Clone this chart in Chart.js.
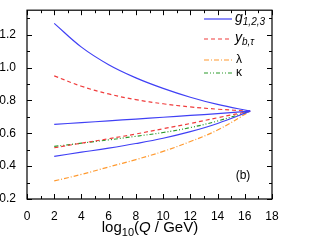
<!DOCTYPE html>
<html>
<head>
<meta charset="utf-8">
<script src="https://cdn.jsdelivr.net/npm/chart.js@4"></script>
<style>
  html, body { margin: 0; padding: 0; background: #fff; }
  #wrap { width: 314px; height: 241px; }
</style>
</head>
<body>
<div id="wrap"><canvas id="c" width="314" height="241"></canvas></div>
<script>
// scale (log10 of Q in GeV)
const logQ = [2, 4, 6, 8, 10, 12, 14, 16.4];

// gauge couplings
const g3 = [1.27, 1.125, 1.018, 0.938, 0.874, 0.82, 0.776, 0.735];
const g2 = [0.655, 0.665, 0.676, 0.687, 0.698, 0.709, 0.72, 0.735];
const g1 = [0.46, 0.485, 0.51, 0.538, 0.57, 0.61, 0.66, 0.735];

// yukawas
const yb = [0.95, 0.887, 0.84, 0.805, 0.78, 0.761, 0.747, 0.735];
const ytau = [0.512, 0.54, 0.567, 0.596, 0.628, 0.66, 0.695, 0.735];

// other couplings
const lambda = [0.31, 0.35, 0.395, 0.44, 0.49, 0.55, 0.62, 0.735];
const kappa = [0.52, 0.54, 0.56, 0.582, 0.605, 0.635, 0.675, 0.735];

const xTicks = [0, 2, 4, 6, 8, 10, 12, 14, 16, 18];
const yTicks = [0.2, 0.4, 0.6, 0.8, 1.0, 1.2];

const BLUE = "#4040f5";
const RED = "#f03c3c";
const ORANGE = "#ff9a30";
const GREEN = "#2a9a2a";

function pts(ys) {
    return logQ.map((x, i) => ({ x: x, y: ys[i] }));
}

function line(label, ys, color, dash) {
    return {
        label: label,
        data: pts(ys),
        borderColor: color,
        borderWidth: 1.2,
        borderDash: dash,
        pointRadius: 0,
        fill: false,
        tension: 0.4
    };
}

// frame, inward ticks, legend and axis title
const decor = {
    id: "decor",
    afterDraw(chart) {
        const c = chart.ctx;
        const a = chart.chartArea;
        const xs = chart.scales.x, ys = chart.scales.y;
        c.save();
        c.strokeStyle = "#000";
        c.lineWidth = 1.2;
        c.strokeRect(a.left, a.top, a.right - a.left, a.bottom - a.top);

        c.lineWidth = 1;
        c.beginPath();
        for (let v = 0; v <= 18; v += 1) {
            const px = Math.round(xs.getPixelForValue(v)) + 0.5;
            const len = v % 2 === 0 ? 5 : 3;
            c.moveTo(px, a.bottom); c.lineTo(px, a.bottom - len);
            c.moveTo(px, a.top); c.lineTo(px, a.top + len);
        }
        for (let k = 2; k <= 13; k++) {
            const v = k / 10;
            const py = Math.round(ys.getPixelForValue(v)) + 0.5;
            const len = k % 2 === 0 ? 5 : 3;
            c.moveTo(a.left, py); c.lineTo(a.left + len, py);
            c.moveTo(a.right, py); c.lineTo(a.right - len, py);
        }
        c.stroke();

        // legend
        const items = [
            { color: BLUE, dash: [], main: "g", sub: "1,2,3", y: 19 },
            { color: RED, dash: [4, 3], main: "y", sub: "b,\u03c4", y: 39 },
            { color: ORANGE, dash: [5, 2, 1, 2], main: "\u03bb", sub: "", y: 60 },
            { color: GREEN, dash: [4, 2, 1, 2, 1, 2], main: "\u03ba", sub: "", y: 73 }
        ];
        c.textBaseline = "middle";
        items.forEach(it => {
            c.strokeStyle = it.color;
            c.lineWidth = 1.2;
            c.setLineDash(it.dash);
            c.beginPath();
            c.moveTo(204, it.y); c.lineTo(232, it.y);
            c.stroke();
            c.setLineDash([]);
            c.fillStyle = "#000";
            if (it.sub) {
                c.font = "italic 14px 'Liberation Sans', Arial, sans-serif";
                c.fillText(it.main, 235, it.y - 1);
                const w = c.measureText(it.main).width;
                c.font = "italic 10px 'Liberation Sans', Arial, sans-serif";
                c.fillText(it.sub, 235 + w, it.y + 3);
            } else {
                c.font = "12px 'Liberation Sans', Arial, sans-serif";
                c.fillText(it.main, 236, it.y);
            }
        });

        // panel label
        c.fillStyle = "#000";
        c.font = "12px 'Liberation Sans', Arial, sans-serif";
        c.textAlign = "center";
        c.fillText("(b)", 243, 176);

        // x axis title: log10(Q / GeV)
        c.textAlign = "left";
        c.textBaseline = "alphabetic";
        const big = "15px 'Liberation Sans', Arial, sans-serif";
        const small = "11px 'Liberation Sans', Arial, sans-serif";
        const parts = [
            { t: "log", f: big, dy: 0 },
            { t: "10", f: small, dy: 4 },
            { t: "(", f: big, dy: 0 },
            { t: "Q", f: "italic " + big, dy: 0 },
            { t: " / GeV)", f: big, dy: 0 }
        ];
        let total = 0;
        parts.forEach(p => { c.font = p.f; total += c.measureText(p.t).width; });
        let x = 150 - total / 2;
        parts.forEach(p => {
            c.font = p.f;
            c.fillText(p.t, x, 232 + p.dy);
            x += c.measureText(p.t).width;
        });
        c.restore();
    }
};

new Chart(document.getElementById("c").getContext("2d"), {
    type: "line",
    data: {
        datasets: [
            line("g3", g3, BLUE, []),
            line("g2", g2, BLUE, []),
            line("g1", g1, BLUE, []),
            line("yb", yb, RED, [4, 3]),
            line("ytau", ytau, RED, [4, 3]),
            line("kappa", kappa, GREEN, [4, 2, 1, 2, 1, 2]),
            line("lambda", lambda, ORANGE, [5, 2, 1, 2])
        ]
    },
    options: {
        responsive: false,
        animation: false,
        layout: { padding: { left: 0, right: 42, top: 5, bottom: 0 } },
        plugins: {
            legend: { display: false },
            tooltip: { enabled: false }
        },
        scales: {
            x: {
                type: "linear",
                min: 0,
                max: 18,
                afterBuildTicks: s => { s.ticks = xTicks.map(v => ({ value: v })); },
                afterFit: s => { s.height = 42; },
                grid: { display: false },
                border: { display: false },
                ticks: {
                    color: "#000",
                    padding: 2,
                    maxRotation: 0,
                    font: { size: 12, family: "'Liberation Sans', Arial, sans-serif" },
                    callback: v => String(v)
                }
            },
            y: {
                min: 0.2,
                max: 1.35,
                afterBuildTicks: s => { s.ticks = yTicks.map(v => ({ value: v })); },
                afterFit: s => { s.width = 27; },
                grid: { display: false },
                border: { display: false },
                ticks: {
                    color: "#000",
                    padding: 3,
                    font: { size: 12, family: "'Liberation Sans', Arial, sans-serif" },
                    callback: v => v.toFixed(1)
                }
            }
        }
    },
    plugins: [decor]
});
</script>
</body>
</html>
